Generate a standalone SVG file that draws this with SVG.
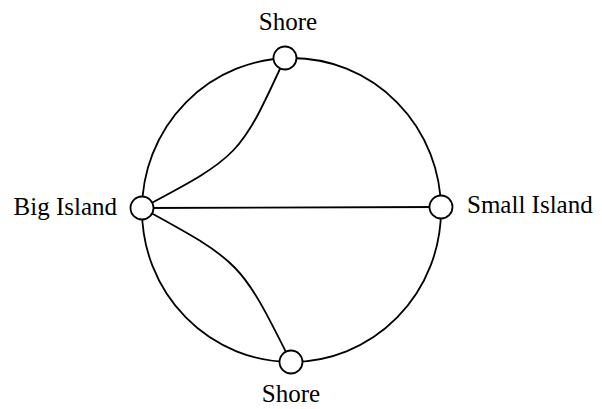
<svg xmlns="http://www.w3.org/2000/svg" width="602" height="409" viewBox="0 0 602 409">
<style>
.edge{fill:none;stroke:#000;stroke-width:1.8}
.node{fill:#fff;stroke:#000;stroke-width:1.8}
.lbl{font-family:"Liberation Serif","Times New Roman",serif;font-size:25px;fill:#000}
</style>
<rect width="602" height="409" fill="#fff"/>
<g id="connectors">
<ellipse class="edge" cx="291.5" cy="210" rx="149.5" ry="152"/>
<line class="edge" x1="142" y1="208" x2="441" y2="207" stroke-width="1.3"/>
<path class="edge" d="M142,208 C240,156 240,156 285,58"/>
<path class="edge" d="M142,208 C241,262 241,262 291,362"/>
</g>
<g id="shore-top">
<circle class="node" cx="285" cy="58" r="11.5"/>
<text class="lbl" x="288" y="30" text-anchor="middle">Shore</text>
</g>
<g id="big-island">
<circle class="node" cx="142" cy="208" r="11.5"/>
<text class="lbl" x="117" y="215" text-anchor="end">Big Island</text>
</g>
<g id="small-island">
<circle class="node" cx="441" cy="207" r="11.5"/>
<text class="lbl" x="467" y="213">Small Island</text>
</g>
<g id="shore-bottom">
<circle class="node" cx="291" cy="362" r="11.5"/>
<text class="lbl" x="291" y="402" text-anchor="middle">Shore</text>
</g>
</svg>
